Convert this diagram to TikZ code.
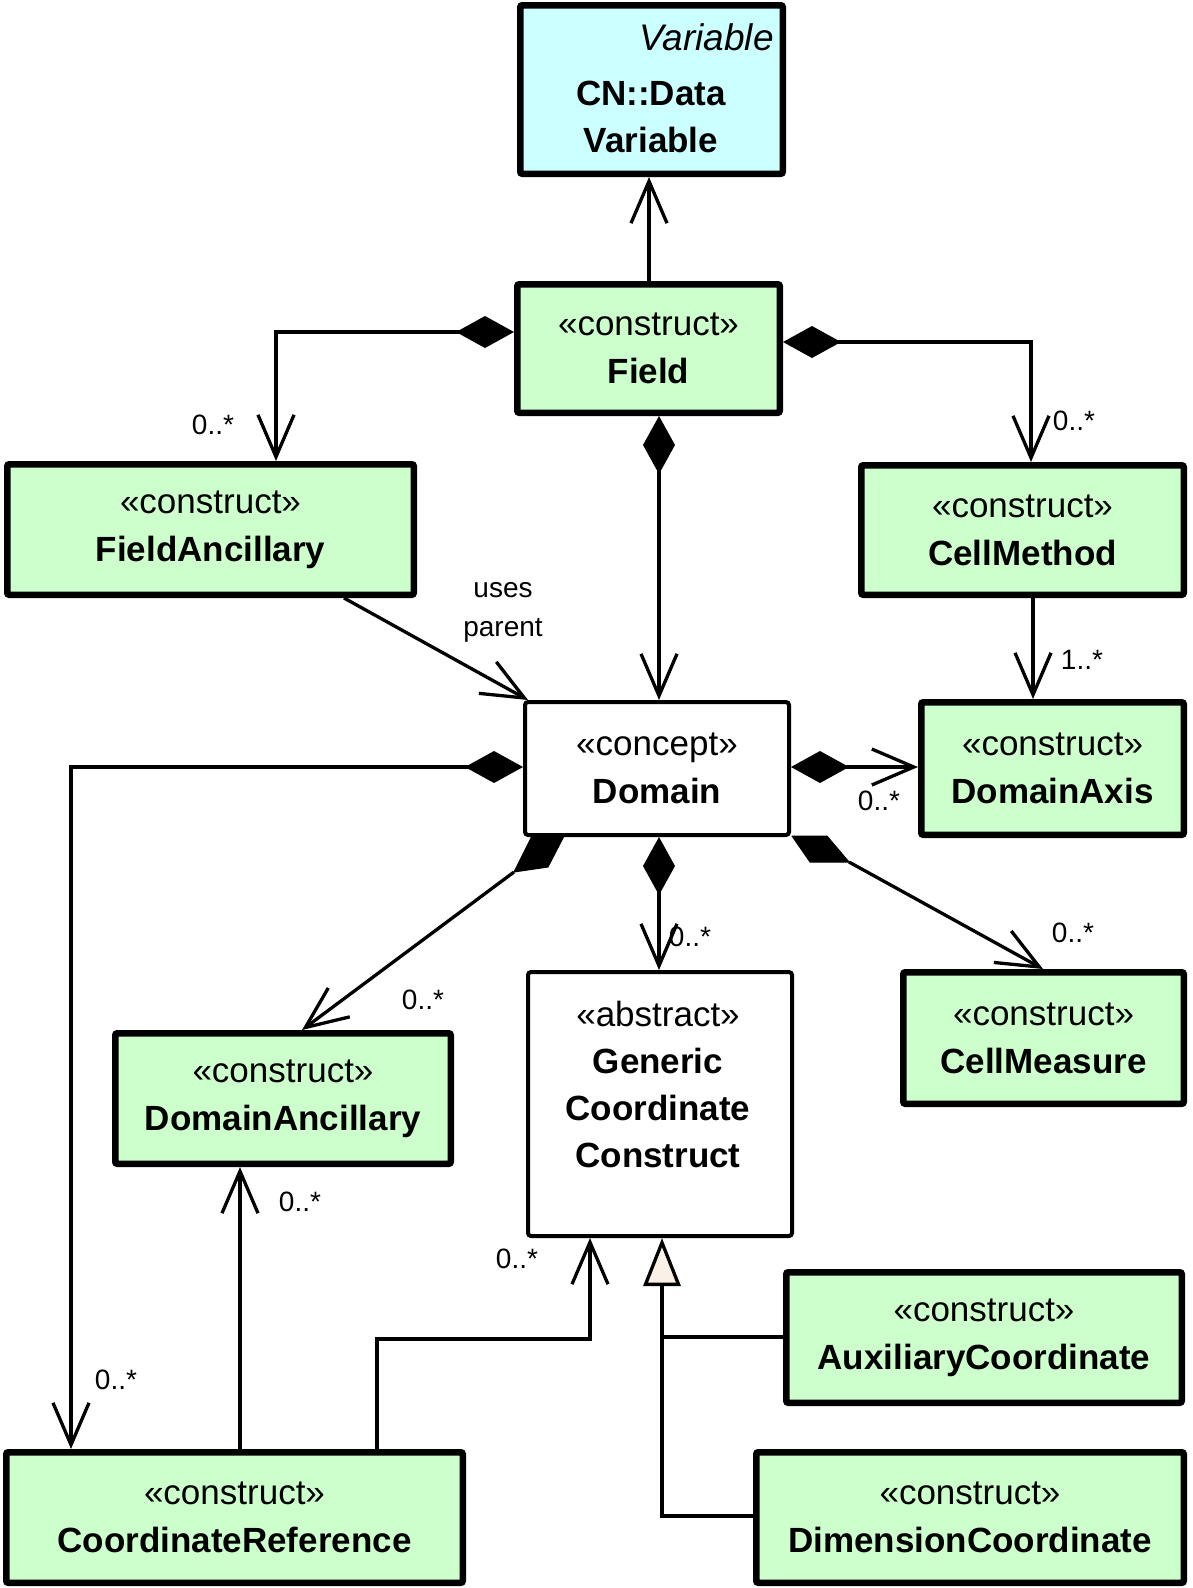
\documentclass[tikz,border=0pt]{standalone}
\usepackage{fontspec}
\setmainfont{Liberation Sans}
\usetikzlibrary{arrows.meta}
\definecolor{boxgreen}{HTML}{CCFFCC}
\definecolor{boxcyan}{HTML}{CCFFFF}
\definecolor{trifill}{HTML}{FAF0E6}
\begin{document}
\begin{tikzpicture}[x=1pt,y=-1pt,
  cbox/.style={draw, line width=6.5pt, fill=boxgreen, rounded corners=2pt, inner sep=0pt, align=center, font=\fontsize{35}{48}\selectfont},
  vbox/.style={cbox, fill=boxcyan},
  wbox/.style={draw, line width=4pt, fill=white, rounded corners=3pt, inner sep=0pt, align=center, font=\fontsize{35}{48}\selectfont},
  txt/.style={inner sep=0pt, align=center, font=\fontsize{35}{47}\selectfont},
  lab/.style={inner sep=0pt, align=center, font=\fontsize{28}{39}\selectfont},
  conn/.style={line width=3.3pt},
  assoc/.style={conn, -{Straight Barb[length=42pt,width=36pt]}},
  comp/.style={conn, {Diamond[length=58pt,width=32pt]}-{Straight Barb[length=42pt,width=36pt]}},
  gener/.style={conn, -{Triangle[length=48pt,width=37pt,fill=trifill]}},
  dia/.style={fill=black, draw=black, line width=1pt, line join=round}
]
\useasboundingbox (0,0) rectangle (1192,1588);

% boxes
\node[vbox, minimum width=262.5pt, minimum height=168.5pt] (var) at (651.5,89.5) {};
\node[txt, anchor=east, font=\fontsize{37}{44}\selectfont] (varst) at (774,37) {\itshape Variable};
\node[txt] (varname) at (651,117) {\textbf{CN::Data}\\\textbf{Variable}};

\node[cbox, minimum width=262.5pt, minimum height=128.5pt] (field) at (648.5,348.5) {«construct»\\\textbf{Field}};
\node[cbox, minimum width=406.5pt, minimum height=130.5pt] (fanc) at (210.5,529.5) {«construct»\\\textbf{FieldAncillary}};
\node[cbox, minimum width=322.5pt, minimum height=129.5pt] (cm) at (1022.5,530) {«construct»\\\textbf{CellMethod}};
\node[wbox, minimum width=264pt, minimum height=133pt] (dom) at (657,768.5) {«concept»\\\textbf{Domain}};
\node[cbox, minimum width=262.5pt, minimum height=132.5pt] (dax) at (1052.5,768.5) {«construct»\\\textbf{DomainAxis}};
\node[cbox, minimum width=335.5pt, minimum height=130.5pt] (danc) at (283,1098.5) {«construct»\\\textbf{DomainAncillary}};
\node[wbox, minimum width=264pt, minimum height=264pt] (gen) at (660,1104) {};
\node[txt] (gentxt) at (658,1084) {«abstract»\\\textbf{Generic}\\\textbf{Coordinate}\\\textbf{Construct}};
\node[cbox, minimum width=280.5pt, minimum height=131.5pt] (cmeas) at (1043.5,1038) {«construct»\\\textbf{CellMeasure}};
\node[cbox, minimum width=395.5pt, minimum height=130.5pt] (aux) at (984,1337.5) {«construct»\\\textbf{AuxiliaryCoordinate}};
\node[cbox, minimum width=456.5pt, minimum height=130.5pt] (cref) at (234.5,1517.5) {«construct»\\\textbf{CoordinateReference}};
\node[cbox, minimum width=427.5pt, minimum height=130.5pt] (dim) at (970,1517.5) {«construct»\\\textbf{DimensionCoordinate}};

% connectors
\draw[assoc] (field.north -| 649,0) -- (var.south -| 649,0);
\draw[comp] (field.west |- 0,332) -| (fanc.north -| 276,0);
\node[lab] (l1) at (213,425) {0..*};
\draw[comp] (field.east |- 0,342) -| (cm.north -| 1031,0);
\node[lab] (l2) at (1074,421) {0..*};
\draw[comp] (field.south -| 659,0) -- (dom.north -| 659,0);

\draw[assoc] (fanc.south -| 344,0) -- ([xshift=5pt]dom.north west);
\node[lab] (l3) at (503,612) {uses\\parent};

\draw[assoc] (cm.south -| 1033,0) -- (dax.north -| 1033,0);
\node[lab] (l4) at (1082,660) {1..*};

\draw[comp] (dom.east |- 0,767) -- (dax.west |- 0,767);
\node[lab] (l5) at (879,801) {0..*};

\draw[comp] (dom.west |- 0,767) -| (cref.north -| 71,0);
\node[lab] (l6) at (116,1380) {0..*};

% sheared composition diamonds on Domain's lower corners
\coordinate (dl) at (514,872);
\fill[dia] (dl) -- (548,867) -- (564,836) -- (532,836) -- cycle;
\draw[assoc] (dl) -- (danc.north -| 302,0);
\node[lab] (l7) at (423,1000) {0..*};

\draw[comp] (dom.south -| 659,0) -- (gen.north -| 659,0);
\node[lab] (l8) at (690,937) {0..*};

\coordinate (dr) at (849,862);
\fill[dia] (dr) -- (810,862) -- (792,836) -- (827,836) -- cycle;
\draw[assoc] (dr) -- (cmeas.north -| 1043,0);
\node[lab] (l9) at (1073,933) {0..*};

\draw[assoc] (cref.north -| 240,0) -- (danc.south -| 240,0);
\node[lab] (l10) at (300,1202) {0..*};

\coordinate (crk) at (590,1339);
\draw[assoc] (cref.north -| 377,0) |- (crk) -- (gen.south -| crk);
\node[lab] (l11) at (517,1259) {0..*};

\coordinate (gj) at (662,1337);
\draw[gener] (aux.west |- gj) -- (gj) -- (gen.south -| gj);
\draw[conn] (dim.west |- 0,1516) -| (gj);
\end{tikzpicture}
\end{document}
